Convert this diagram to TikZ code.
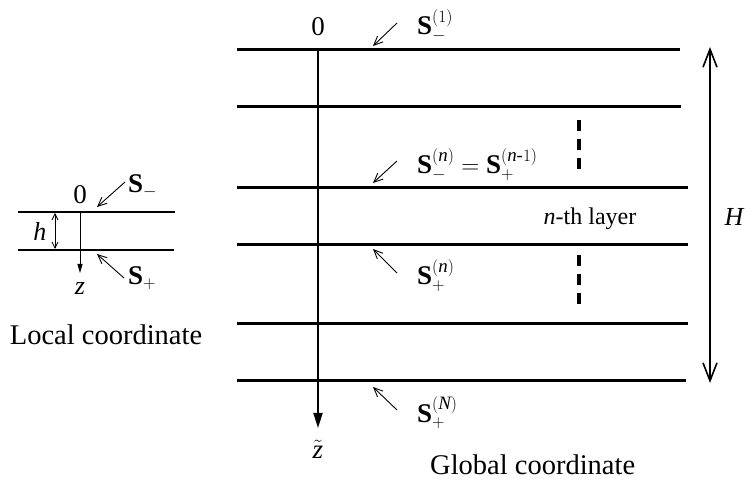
\documentclass[tikz,border=0pt]{standalone}
\usepackage{amsmath}
\usepackage{fontspec}
\setmainfont{Liberation Serif}
\usetikzlibrary{arrows.meta}
\begin{document}
\begin{tikzpicture}[x=1pt,y=-1pt,
  layerline/.style={line width=3pt},
  locline/.style={line width=2.6pt},
  axisline/.style={line width=1.8pt,-{Triangle[length=15pt,width=9pt]}},
  locaxis/.style={line width=0.9pt,-{Triangle[length=9pt,width=5pt]}},
  pointer/.style={line width=0.9pt,-{Straight Barb[length=9pt,width=8pt,line width=0.9pt]}},
  harrow/.style={line width=1.6pt,{Straight Barb[length=18pt,width=14pt,line width=1.6pt]}-{Straight Barb[length=18pt,width=14pt,line width=1.6pt]}},
  smallh/.style={line width=0.8pt,{Straight Barb[length=6pt,width=6pt,line width=0.8pt]}-{Straight Barb[length=6pt,width=6pt,line width=0.8pt]}},
  dots/.style={line width=3.5pt,dash pattern=on 11pt off 8pt},
  slabel/.style={anchor=base west,inner sep=0pt,font=\fontsize{27}{32}\selectfont},
  tlabel/.style={inner sep=0pt,font=\fontsize{27}{32}\selectfont},
  caption/.style={anchor=base west,inner sep=0pt,font=\fontsize{28.5}{33}\selectfont}]
\useasboundingbox (0,0) rectangle (748,481);

% ---------- global layers ----------
\coordinate (g1l) at (237,50);  \coordinate (g1r) at (680,50);
\coordinate (g2l) at (237,107); \coordinate (g2r) at (681,107);
\coordinate (g3l) at (237,188); \coordinate (g3r) at (688,188);
\coordinate (g4l) at (237,245); \coordinate (g4r) at (688,245);
\coordinate (g5l) at (237,324); \coordinate (g5r) at (688,324);
\coordinate (g6l) at (237,381); \coordinate (g6r) at (686,381);
\foreach \i in {1,...,6}{\draw[layerline] (g\i l) -- (g\i r);}

% global axis
\coordinate (ztop) at (318,50);
\coordinate (zbot) at (318,428);
\draw[axisline] (ztop) -- (zbot);
\node[tlabel] (zero) at (318,27) {0};
\node[tlabel] (zt) at (318,449) {$\tilde{\mathit{z}}$};

% pointers
\coordinate (p1a) at (397,23);  \coordinate (p1b) at (373,46);
\coordinate (p2a) at (397,161); \coordinate (p2b) at (373,183);
\coordinate (p3a) at (397,273); \coordinate (p3b) at (373,249);
\coordinate (p4a) at (397,410); \coordinate (p4b) at (373,387);
\foreach \i in {1,...,4}{\draw[pointer] (p\i a) -- (p\i b);}

\node[slabel] (s1) at (417,35) {$\mathbf{S}^{(1)}_{-}$};
\node[slabel] (s2) at (417,174) {$\mathbf{S}^{(\mathit{n})}_{-} = \mathbf{S}^{(\mathit{n}\text{-}1)}_{+}$};
\node[slabel] (s3) at (417,285) {$\mathbf{S}^{(\mathit{n})}_{+}$};
\node[slabel] (s4) at (417,422) {$\mathbf{S}^{(\mathit{N})}_{+}$};

% dots
\coordinate (d1a) at (579,120); \coordinate (d1b) at (579,171);
\coordinate (d2a) at (579,255); \coordinate (d2b) at (579,306);
\draw[dots] (d1a) -- (d1b);
\draw[dots] (d2a) -- (d2b);

\node[inner sep=0pt,font=\fontsize{24}{29}\selectfont] (nth) at (590,219) {\textit{n}-th layer};

% H
\coordinate (Ht) at (710,47); \coordinate (Hb) at (710,383);
\draw[harrow] (Ht) -- (Hb);
\node[inner sep=0pt,font=\fontsize{26}{31}\selectfont\itshape] (H) at (734,217) {H};

\node[caption] (gc) at (430,475) {Global coordinate};

% ---------- local ----------
\coordinate (l1l) at (18,212); \coordinate (l1r) at (175,212);
\coordinate (l2l) at (18,250); \coordinate (l2r) at (174,250);
\draw[locline] (l1l) -- (l1r);
\draw[locline] (l2l) -- (l2r);
\coordinate (lzt) at (80,212); \coordinate (lzb) at (80,273);
\draw[locaxis] (lzt) -- (lzb);
\node[tlabel] (lzero) at (80,195) {0};
\node[tlabel,font=\fontsize{26}{31}\selectfont\itshape] (lz) at (80,289) {z};
\coordinate (ht) at (55,213); \coordinate (hb) at (55,249);
\draw[smallh] (ht) -- (hb);
\node[tlabel,font=\fontsize{26}{31}\selectfont\itshape] (h) at (40,231) {h};

\coordinate (q1a) at (125,182); \coordinate (q1b) at (97,207);
\coordinate (q2a) at (124,278); \coordinate (q2b) at (97,254);
\draw[pointer] (q1a) -- (q1b);
\draw[pointer] (q2a) -- (q2b);
\node[slabel] (ls1) at (128,193) {$\mathbf{S}_{-}$};
\node[slabel] (ls2) at (128,285) {$\mathbf{S}_{+}$};

\node[caption,anchor=base] (lc) at (106,345) {Local coordinate};
\end{tikzpicture}
\end{document}
